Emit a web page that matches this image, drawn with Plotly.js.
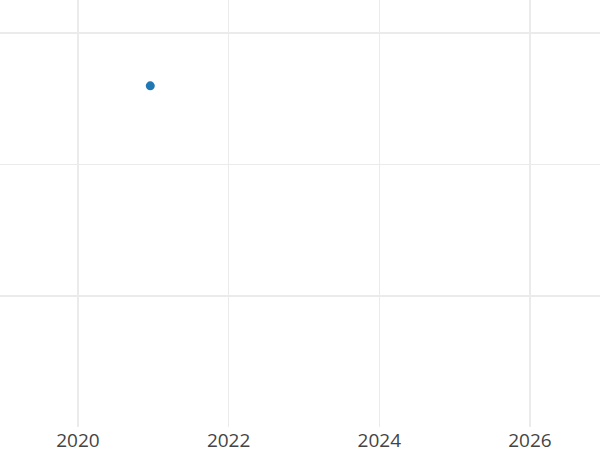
<!DOCTYPE html>
<html>
<head>
<meta charset="utf-8">
<script src="https://cdn.plot.ly/plotly-3.0.1.min.js"></script>
<style>html,body{margin:0;padding:0;background:#fff;}#chart{width:600px;height:450px;}</style>
</head>
<body>
<div id="chart"></div>
<script>
const years = [2020.96];
const values = [2.598];
const xTickVals = [2020, 2022, 2024, 2026];
const xTickText = ["2020", "2022", "2024", "2026"];
const yTickVals = [1, 2, 3];

Plotly.newPlot('chart', [{
  type: 'scatter',
  mode: 'markers',
  x: years,
  y: values,
  marker: {color: '#1f77b4', size: 9},
  showlegend: false,
  hoverinfo: 'x+y'
}], {
  width: 600,
  height: 450,
  margin: {l: 0, r: 0, t: 0, b: 23, pad: 0},
  paper_bgcolor: '#ffffff',
  plot_bgcolor: '#ffffff',
  font: {family: 'Open Sans', size: 19, color: '#444444'},
  xaxis: {
    range: [2018.965, 2026.93],
    tickvals: xTickVals,
    ticktext: xTickText,
    ticklabelstandoff: 0,
    showgrid: true,
    gridcolor: '#ebebeb',
    gridwidth: 1.5,
    zeroline: false,
    showline: false,
    ticks: ''
  },
  yaxis: {
    range: [0.004, 3.251],
    tickvals: yTickVals,
    showticklabels: false,
    showgrid: true,
    gridcolor: '#ebebeb',
    gridwidth: 1.5,
    zeroline: false,
    showline: false,
    ticks: ''
  }
}, {displayModeBar: false, staticPlot: true});
</script>
</body>
</html>
